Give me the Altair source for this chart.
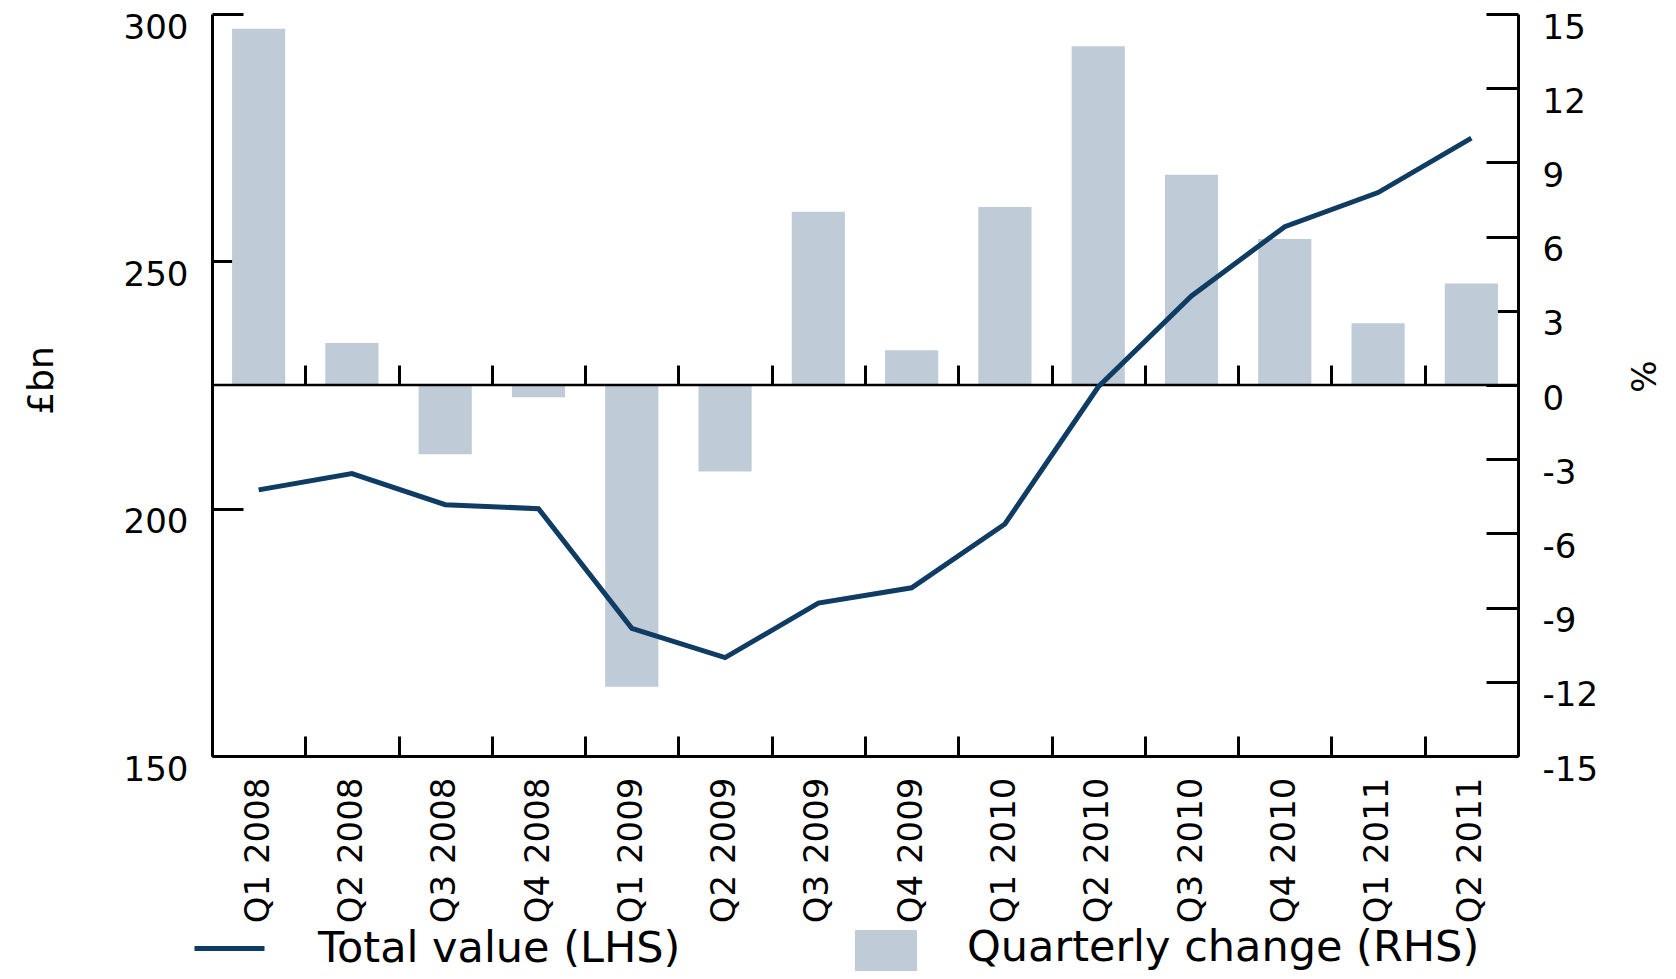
import altair as alt
import pandas as pd

quarters = ["Q1 2008", "Q2 2008", "Q3 2008", "Q4 2008", "Q1 2009", "Q2 2009", "Q3 2009",
            "Q4 2009", "Q1 2010", "Q2 2010", "Q3 2010", "Q4 2010", "Q1 2011", "Q2 2011"]
total_value = [203.8, 207.1, 200.8, 200.0, 175.8, 169.9, 180.9,
               184.0, 196.9, 224.6, 243.0, 257.0, 263.9, 274.9]
quarterly_change = [14.4, 1.7, -2.8, -0.5, -12.2, -3.5, 7.0,
                    1.4, 7.2, 13.7, 8.5, 5.9, 2.5, 4.1]
left_ticks = [150, 200, 250, 300]
right_ticks = [-15, -12, -9, -6, -3, 0, 3, 6, 9, 12, 15]
line_name = "Total value (LHS)"
bar_name = "Quarterly change (RHS)"

df = pd.DataFrame({
    "quarter": quarters,
    "total": total_value,
    "change": quarterly_change,
    "line_series": line_name,
    "bar_series": bar_name,
})
zero_df = pd.DataFrame({"zero": [0]})

W, H = 1306, 742
FONT = "DejaVu Sans"
BAR = "#bfcbd6"
LINE = "#0f3c63"
HYPHEN = "replace(datum.label, '\u2212', '-')"

x_bar_scale = alt.Scale(type="band", paddingInner=0.43, paddingOuter=0.215)
x_edge_scale = alt.Scale(type="band", paddingInner=0, paddingOuter=0)
left_scale = alt.Scale(domain=[150, 300], nice=False, zero=False)
right_scale = alt.Scale(domain=[-15, 15], nice=False, zero=False)

bars = alt.Chart(df).mark_bar().encode(
    x=alt.X("quarter:N", sort=quarters, scale=x_bar_scale,
            axis=alt.Axis(orient="bottom", title=None, labelAngle=270, labelFontSize=34,
                          labelFont=FONT, labelColor="black", labelPadding=21, labelLimit=400,
                          ticks=False, tickSize=0, domain=True, domainColor="black",
                          domainWidth=3, grid=False)),
    y=alt.Y("change:Q", scale=right_scale,
            axis=alt.Axis(orient="right", values=right_ticks, title="%", ticks=False, tickSize=0,
                          labelPadding=24, labelOffset=14, labelFontSize=34, labelFont=FONT,
                          labelColor="black", labelExpr=HYPHEN, domain=True,
                          domainColor="black", domainWidth=3,
                          grid=False, titleAngle=270, titleX=127, titleY=362,
                          titleAlign="center", titleBaseline="middle", titleFontSize=34,
                          titleFont=FONT, titleFontWeight="normal", titleColor="black")),
    color=alt.Color("bar_series:N", scale=alt.Scale(domain=[bar_name], range=[BAR]),
                    legend=alt.Legend(orient="none", legendX=643, legendY=916, title=None,
                                      symbolType="square", symbolSize=3844, symbolStrokeWidth=0,
                                      labelFontSize=43, labelFont=FONT, labelColor="black",
                                      labelBaseline="alphabetic",
                                      labelOffset=50, labelLimit=1000, padding=0)),
)

zero_line = alt.Chart(zero_df).mark_rule(color="black", strokeWidth=2.5).encode(
    y=alt.Y("zero:Q", scale=right_scale,
            axis=alt.Axis(orient="right", offset=-32, values=right_ticks, labels=False,
                          domain=False, ticks=True, tickSize=32, tickWidth=3,
                          tickColor="black", title=None, grid=False)),
)

line = alt.Chart(df).mark_line(strokeWidth=5).encode(
    x=alt.X("quarter:N", sort=quarters, scale=x_edge_scale, bandPosition=0.5,
            axis=alt.Axis(orient="top", offset=-H / 2, title=None, labels=False, domain=False,
                          ticks=True, tickSize=20, tickWidth=3, tickColor="black",
                          tickBand="extent", grid=False)),
    y=alt.Y("total:Q", scale=left_scale,
            axis=alt.Axis(orient="left", values=left_ticks, title="£bn", ticks=False, tickSize=0,
                          labelPadding=24, labelOffset=14, labelFontSize=34, labelFont=FONT,
                          labelColor="black", domain=True, domainColor="black", domainWidth=3,
                          grid=False, titleAngle=270, titleX=-171, titleY=366,
                          titleAlign="center", titleBaseline="middle", titleFontSize=36,
                          titleFont=FONT, titleFontWeight="normal", titleColor="black")),
    stroke=alt.Stroke("line_series:N", scale=alt.Scale(domain=[line_name], range=[LINE]),
                      legend=alt.Legend(orient="none", legendX=-20, legendY=897, title=None,
                                        symbolType="stroke", symbolSize=4900,
                                        symbolStrokeWidth=5, labelFontSize=43, labelFont=FONT,
                                        labelColor="black", labelBaseline="middle",
                                        labelOffset=51, labelLimit=1000, padding=0)),
)

tick_holder = alt.Chart(df).mark_point(opacity=0).encode(
    x=alt.X("quarter:N", sort=quarters, scale=x_edge_scale,
            axis=alt.Axis(orient="top", offset=-H, title=None, labels=False, domain=False,
                          ticks=True, tickSize=20, tickWidth=3, tickColor="black",
                          tickBand="extent", grid=False)),
    y=alt.Y("total:Q", scale=left_scale,
            axis=alt.Axis(orient="left", offset=-31, values=left_ticks, labels=False,
                          domain=False, ticks=True, tickSize=31, tickWidth=3,
                          tickColor="black", title=None, grid=False)),
)

chart = alt.layer(bars, zero_line, line, tick_holder).resolve_scale(
    x="independent", y="independent", color="independent", stroke="independent"
).resolve_axis(
    x="independent", y="independent"
).properties(
    width=W, height=H,
    autosize=alt.AutoSizeParams(type="none"),
    padding={"left": 204, "top": 6, "right": 150, "bottom": 215},
    background="white",
).configure_view(stroke=None)

chart.save("out.html", embed_options={"renderer": "svg", "actions": False})
